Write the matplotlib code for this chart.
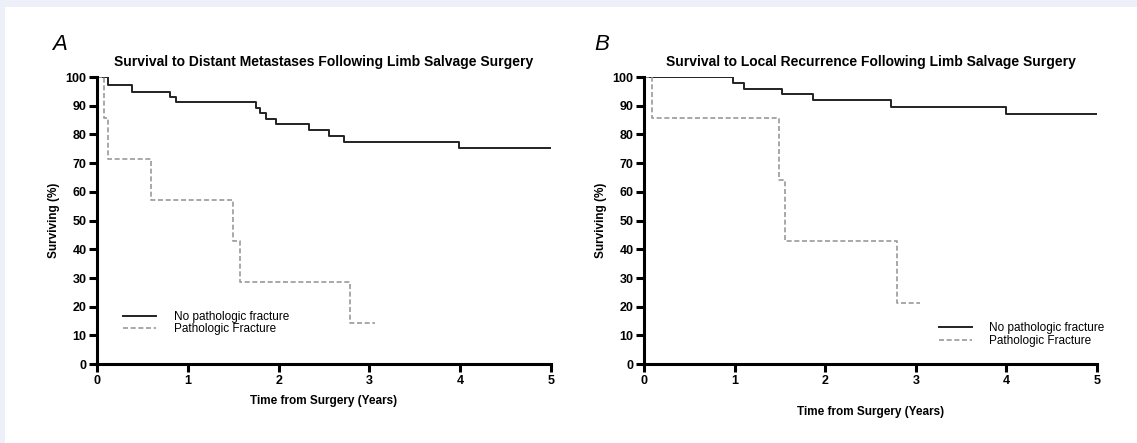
import matplotlib.pyplot as plt
from matplotlib.patches import Rectangle

# Panel A: survival to distant metastases (step times in years, survival %)
a_nofx_t = [0, 0.12, 0.38, 0.80, 0.87, 1.75, 1.80, 1.86, 1.97, 2.33, 2.55, 2.72, 3.99, 5.0]
a_nofx_s = [100, 97.1, 94.9, 93.0, 91.2, 89.2, 87.4, 85.5, 83.6, 81.6, 79.6, 77.4, 75.2, 75.2]
a_fx_t = [0, 0.08, 0.12, 0.59, 1.50, 1.57, 2.79, 3.06]
a_fx_s = [100, 85.7, 71.4, 57.1, 42.9, 28.6, 14.3, 14.3]

# Panel B: survival to local recurrence
b_nofx_t = [0, 0.98, 1.10, 1.52, 1.86, 2.73, 4.0, 5.0]
b_nofx_s = [100, 98.0, 96.0, 94.0, 91.9, 89.6, 87.2, 87.2]
b_fx_t = [0, 0.09, 1.49, 1.56, 2.79, 3.05]
b_fx_s = [100, 85.7, 64.3, 42.9, 21.4, 21.4]

titles = ["Survival to Distant Metastases Following Limb Salvage Surgery",
          "Survival to Local Recurrence Following Limb Salvage Surgery"]
letters = ["A", "B"]
labels = ["No pathologic fracture", "Pathologic Fracture"]

plt.rcParams['font.family'] = ['Liberation Sans', 'DejaVu Sans']

fig = plt.figure(figsize=(11.37, 4.43), dpi=100, facecolor='#eef0f9')
fig.patches.append(Rectangle((5 / 1137, 0), 1, 1 - 7 / 443, transform=fig.transFigure,
                             facecolor='white', edgecolor='none', zorder=-10))

ax_a = fig.add_axes([97 / 1137, 0.178, 454 / 1137, 0.648])
ax_b = fig.add_axes([644 / 1137, 0.178, 453 / 1137, 0.648])

panels = [
	(ax_a, a_nofx_t, a_nofx_s, a_fx_t, a_fx_s),
	(ax_b, b_nofx_t, b_nofx_s, b_fx_t, b_fx_s),
]

for i, (ax, t1, s1, t2, s2) in enumerate(panels):
	ax.set_facecolor('none')
	ax.step(t1, s1, where='post', color='#222222', lw=1.4, label=labels[0])
	ax.step(t2, s2, where='post', color='#999999', lw=1.2, ls=(0, (3, 1.6)), label=labels[1])
	ax.set_xlim(0, 5)
	ax.set_ylim(0, 100)
	ax.set_xticks(range(6))
	ax.set_yticks(range(0, 101, 10))
	for side in ['top', 'right']:
		ax.spines[side].set_visible(False)
	for side in ['left', 'bottom']:
		ax.spines[side].set_linewidth(2.2)
	ax.tick_params(width=2.2, length=6, labelsize=9, pad=1.5)
	for lab in ax.get_xticklabels() + ax.get_yticklabels():
		lab.set_fontweight('bold')
	ax.set_title(titles[i], fontsize=10, fontweight='bold', pad=8)
	ax.set_ylabel("Surviving (%)", fontsize=8.5, fontweight='bold', labelpad=4)
	ax.set_xlabel("Time from Surgery (Years)", fontsize=8.5, fontweight='bold',
				  labelpad=6 if i == 0 else 14)

ax_a.legend(loc='lower left', bbox_to_anchor=(0.045, 0.08), frameon=False, fontsize=8.5,
			handlelength=2.8, handletextpad=1.5, labelspacing=0.05, borderpad=0)
ax_b.legend(loc='lower right', bbox_to_anchor=(1.03, 0.04), frameon=False, fontsize=8.5,
			handlelength=2.8, handletextpad=1.5, labelspacing=0.05, borderpad=0)

fig.text(52 / 1137, 1 - 45 / 443, letters[0], fontsize=16, style='italic', va='center')
fig.text(594 / 1137, 1 - 45 / 443, letters[1], fontsize=16, style='italic', va='center')

fig.savefig('out.png', dpi=100, facecolor=fig.get_facecolor())
